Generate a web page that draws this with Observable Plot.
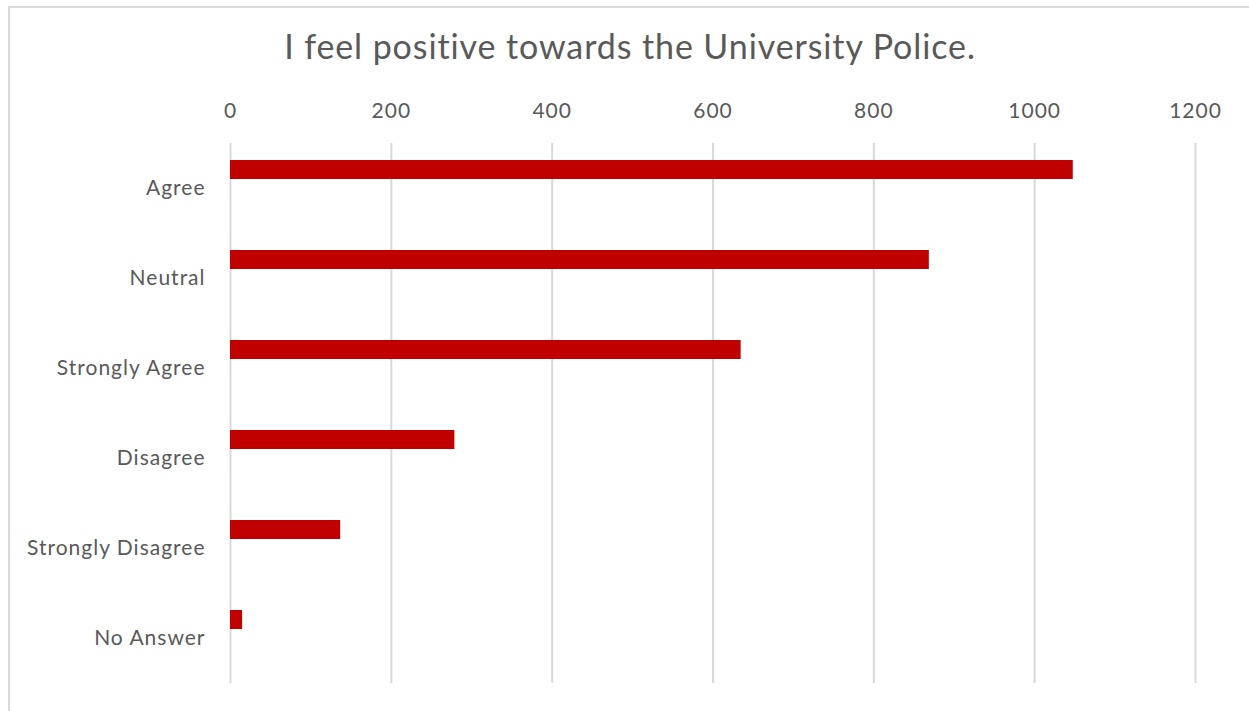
<!DOCTYPE html>
<html>
<head>
<meta charset="utf-8">
<script src="https://cdn.jsdelivr.net/npm/d3@7"></script>
<script src="https://cdn.jsdelivr.net/npm/@observablehq/plot@0.6"></script>
<style>
  html, body { margin: 0; padding: 0; background: #fff; overflow: hidden; }
  #wrap { position: relative; width: 1249px; height: 711px; overflow: hidden; }
  #frame { position: absolute; left: 8px; top: 6px; width: 1400px; height: 900px; border: 2px solid #d9d9d9; box-sizing: border-box; }
  #title { position: absolute; left: 0; top: 25px; width: 1260px; text-align: center; font-family: Lato, sans-serif; font-size: 34px; letter-spacing: 0.9px; color: #595959; white-space: nowrap; }
  #chart { position: absolute; left: 0; top: 0; }
</style>
</head>
<body>
<div id="wrap">
  <div id="frame"></div>
  <div id="title">I feel positive towards the University Police.</div>
  <div id="chart"></div>
</div>
<script>
const categories = ["Agree", "Neutral", "Strongly Agree", "Disagree", "Strongly Disagree", "No Answer"];
const counts = [1048, 869, 635, 279, 137, 15];
const xTicks = [0, 200, 400, 600, 800, 1000, 1200];

const data = categories.map((c, i) => ({category: c, count: counts[i]}));

const chart = Plot.plot({
  width: 1249,
  height: 711,
  marginTop: 143,
  marginBottom: 28,
  marginLeft: 230,
  marginRight: 54,
  style: {fontFamily: "Lato, sans-serif", color: "#595959", background: "transparent"},
  x: {domain: [0, 1200]},
  y: {domain: categories, padding: 0},
  marks: [
    Plot.gridX(xTicks, {stroke: "#d9d9d9", strokeOpacity: 1, strokeWidth: 2}),
    Plot.axisX({anchor: "top", ticks: xTicks, tickFormat: d => String(d), tickSize: 0, tickPadding: 26, fontSize: 21, label: null}),
    Plot.axisY({tickSize: 0, tickPadding: 25, fontSize: 21, label: null}),
    Plot.barX(data, {x: "count", y: "category", fill: "#c00000", insetTop: 17, insetBottom: 54})
  ]
});
d3.select(chart).selectAll("g[aria-label='y-axis tick label'] text").attr("letter-spacing", "1px");
d3.select(chart).selectAll("g[aria-label='x-axis tick label'] text").attr("letter-spacing", "1px");
document.getElementById("chart").appendChild(chart);
</script>
</body>
</html>
